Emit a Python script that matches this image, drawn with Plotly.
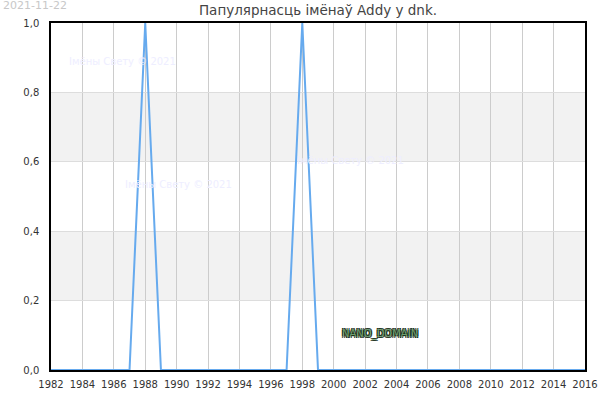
import plotly.graph_objects as go

# Name popularity data (share per year)
years = [1982, 1983, 1984, 1985, 1986, 1987, 1988, 1989, 1990, 1991, 1992,
         1993, 1994, 1995, 1996, 1997, 1998, 1999, 2000, 2001, 2002, 2003,
         2004, 2005, 2006, 2007, 2008, 2009, 2010, 2011, 2012, 2013, 2014,
         2015, 2016]
values = [0, 0, 0, 0, 0, 0, 1, 0, 0, 0, 0,
          0, 0, 0, 0, 0, 1, 0, 0, 0, 0, 0,
          0, 0, 0, 0, 0, 0, 0, 0, 0, 0, 0,
          0, 0]
x_ticks = list(range(1982, 2017, 2))
y_ticks = [0.0, 0.2, 0.4, 0.6, 0.8, 1.0]
bands = [(0.2, 0.4), (0.6, 0.8)]

title_text = "Папулярнасць імёнаў Addy у dnk."
date_text = "2021-11-22"
watermark = "Імёны Свету © 2021"

fig = go.Figure()

fig.add_trace(go.Scatter(
    x=years, y=values, mode="lines",
    line=dict(color="#66aaee", width=2),
    showlegend=False,
))

# grey bands behind the plot
for lo, hi in bands:
    fig.add_hrect(y0=lo, y1=hi, fillcolor="#f2f2f2", line_width=0, layer="below")

tick_font = dict(family="DejaVu Sans", size=10, color="#333")
wm_font = dict(family="DejaVu Sans", size=10, color="#eeeeff")

annotations = [
    dict(text=date_text, xref="paper", yref="paper", x=-0.0945, y=1.049,
         xanchor="left", yanchor="middle", showarrow=False,
         font=dict(family="DejaVu Sans", size=11, color="#c8c8c8")),
    dict(text=watermark, xref="paper", yref="paper", x=0.134, y=0.890,
         xanchor="center", yanchor="middle", showarrow=False, font=wm_font),
    dict(text=watermark, xref="paper", yref="paper", x=0.2385, y=0.536,
         xanchor="center", yanchor="middle", showarrow=False, font=wm_font),
    dict(text=watermark, xref="paper", yref="paper", x=0.560, y=0.605,
         xanchor="center", yanchor="middle", showarrow=False, font=wm_font),
    dict(text="NANO_DOMAIN", xref="paper", yref="paper", x=0.616, y=0.104,
         xanchor="center", yanchor="middle", showarrow=False,
         font=dict(family="DejaVu Sans", size=10, color="#6f9f6f",
                   shadow="-1px -1px 0 #1d331d, 1px -1px 0 #1d331d, "
                          "-1px 1px 0 #1d331d, 1px 1px 0 #1d331d")),
]

fig.update_layout(
    template="none",
    width=600, height=400,
    margin=dict(l=50.5, r=15, t=23, b=30),
    paper_bgcolor="#fff",
    plot_bgcolor="#fff",
    separators=",.",
    title=dict(text=title_text, x=0.5, xanchor="center", xref="paper",
               y=0.975, yanchor="middle",
               font=dict(family="DejaVu Sans", size=13.5, color="#444")),
    annotations=annotations,
    xaxis=dict(
        range=[1982, 2016], tickvals=x_ticks, ticks="", tickfont=tick_font,
        ticklabelstandoff=4, automargin=False,
        showgrid=True, gridcolor="#cccccc", gridwidth=1,
        showline=True, linecolor="#000", linewidth=1.5, mirror=True,
        zeroline=False,
    ),
    yaxis=dict(
        range=[0, 1], tickvals=y_ticks, tickformat=".1f", ticks="",
        tickfont=tick_font, ticklabelstandoff=8, automargin=False,
        showgrid=True, gridcolor="#dddddd", gridwidth=1,
        showline=True, linecolor="#000", linewidth=1.5, mirror=True,
        zeroline=False,
    ),
)

# page without margins or scrollbars so the figure fills the window exactly
page_css = ("document.documentElement.style.overflow='hidden';"
            "document.body.style.margin='0';"
            "document.body.style.overflow='hidden';")

fig.write_html("out.html", config={"displayModeBar": False},
               post_script=page_css)
